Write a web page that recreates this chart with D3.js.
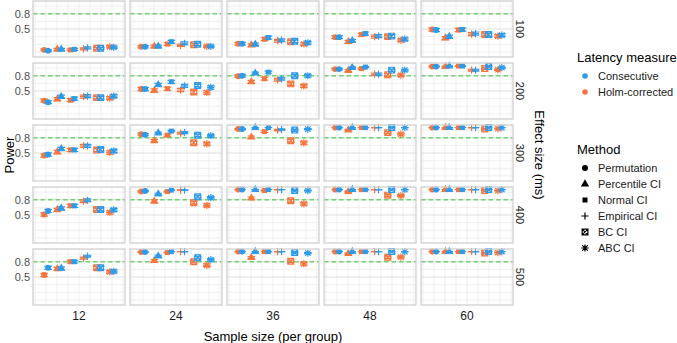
<!DOCTYPE html>
<html>
<head>
<meta charset="utf-8">
<script src="https://cdn.jsdelivr.net/npm/d3@7"></script>
<style>
  body { margin: 0; background: #fff; }
  svg text { font-family: "Liberation Sans", Arial, sans-serif; }
</style>
</head>
<body>
<div id="chart"></div>
<script>
const width = 677;
const height = 343;

// facets and categories
const effects = [100, 200, 300, 400, 500];
const sampleSizes = [12, 24, 36, 48, 60];
const methods = ["Permutation", "Percentile CI", "Normal CI", "Empirical CI", "BC CI", "ABC CI"];
const measures = ["Consecutive", "Holm-corrected"];
const measureColors = ["#2E9BEA", "#F4763E"];
const yTicks = [0.5, 0.8];
const yMinor = [0.05, 0.2, 0.35, 0.65, 0.95];
const target = 0.8;

// power per sample size (rows) and method (columns)
const consecutive100 = [
  [0.075, 0.10, 0.10, 0.13, 0.12, 0.14],
  [0.15, 0.16, 0.25, 0.22, 0.20, 0.16],
  [0.21, 0.20, 0.33, 0.28, 0.26, 0.23],
  [0.34, 0.27, 0.41, 0.36, 0.36, 0.30],
  [0.48, 0.35, 0.49, 0.41, 0.39, 0.38]
];
const holm100 = [
  [0.09, 0.10, 0.09, 0.11, 0.12, 0.15],
  [0.15, 0.16, 0.205, 0.18, 0.19, 0.16],
  [0.21, 0.185, 0.30, 0.27, 0.25, 0.205],
  [0.34, 0.25, 0.39, 0.35, 0.35, 0.28],
  [0.49, 0.32, 0.48, 0.40, 0.39, 0.36]
];
const consecutive200 = [
  [0.28, 0.39, 0.35, 0.40, 0.37, 0.40],
  [0.54, 0.62, 0.68, 0.60, 0.61, 0.57],
  [0.80, 0.85, 0.87, 0.74, 0.80, 0.80],
  [0.93, 0.96, 0.97, 0.83, 0.91, 0.91],
  [0.98, 0.99, 0.99, 0.91, 0.98, 0.96]
];
const holm200 = [
  [0.31, 0.34, 0.32, 0.39, 0.37, 0.36],
  [0.54, 0.51, 0.545, 0.52, 0.48, 0.47],
  [0.79, 0.68, 0.74, 0.72, 0.64, 0.60],
  [0.93, 0.90, 0.94, 0.83, 0.82, 0.81],
  [0.98, 0.98, 0.99, 0.91, 0.94, 0.92]
];
const consecutive300 = [
  [0.47, 0.58, 0.56, 0.64, 0.57, 0.54],
  [0.86, 0.89, 0.93, 0.90, 0.85, 0.84],
  [0.97, 1.00, 1.00, 0.96, 0.95, 0.97],
  [1.00, 1.00, 1.00, 1.00, 1.00, 1.00],
  [1.00, 1.00, 1.00, 1.00, 1.00, 1.00]
];
const holm300 = [
  [0.45, 0.52, 0.56, 0.64, 0.56, 0.51],
  [0.87, 0.74, 0.85, 0.89, 0.70, 0.68],
  [0.97, 0.81, 0.92, 0.95, 0.74, 0.70],
  [1.00, 0.95, 1.00, 1.00, 0.90, 0.87],
  [1.00, 1.00, 1.00, 1.00, 0.97, 0.98]
];
const consecutive400 = [
  [0.58, 0.63, 0.68, 0.79, 0.61, 0.60],
  [0.97, 0.91, 0.99, 0.99, 0.86, 0.84],
  [1.00, 1.00, 1.00, 1.00, 0.98, 0.98],
  [1.00, 1.00, 1.00, 1.00, 1.00, 1.00],
  [1.00, 1.00, 1.00, 1.00, 1.00, 1.00]
];
const holm400 = [
  [0.51, 0.60, 0.68, 0.77, 0.61, 0.55],
  [0.96, 0.77, 0.96, 0.99, 0.74, 0.69],
  [1.00, 0.83, 0.98, 1.00, 0.78, 0.72],
  [1.00, 0.96, 1.00, 1.00, 0.89, 0.88],
  [1.00, 1.00, 1.00, 1.00, 0.98, 0.98]
];
const consecutive500 = [
  [0.68, 0.67, 0.80, 0.91, 0.68, 0.61],
  [0.99, 0.91, 1.00, 1.00, 0.88, 0.84],
  [1.00, 1.00, 1.00, 1.00, 0.98, 0.97],
  [1.00, 1.00, 1.00, 1.00, 1.00, 1.00],
  [1.00, 1.00, 1.00, 1.00, 1.00, 1.00]
];
const holm500 = [
  [0.54, 0.66, 0.80, 0.87, 0.68, 0.60],
  [0.99, 0.82, 0.98, 1.00, 0.80, 0.73],
  [1.00, 0.88, 1.00, 1.00, 0.81, 0.76],
  [1.00, 0.96, 1.00, 1.00, 0.89, 0.89],
  [1.00, 1.00, 1.00, 1.00, 0.97, 0.98]
];

const consecutive = [consecutive100, consecutive200, consecutive300, consecutive400, consecutive500];
const holm = [holm100, holm200, holm300, holm400, holm500];
const nSim = 1000; // simulations per cell, used for the binomial error bars

const svg = d3.select("#chart")
    .append("svg")
    .attr("width", width)
    .attr("height", height);

const col = d3.scaleBand().domain(sampleSizes).range([33, 513]).paddingInner(0.052);
const row = d3.scaleBand().domain(effects).range([1, 305]).paddingInner(0.097);
const x = d3.scaleLinear().domain([0, 7]).range([0, col.bandwidth()]);
const y = d3.scaleLinear().domain([-0.05, 1.05]).range([row.bandwidth(), 0]);
const dodge = 0.15;
const xGrid = d3.range(9).map(k => 0.15 + k * 6.7 / 8);

function shapePath(method, s) {
    switch (method) {
        case "Permutation": return d3.symbol(d3.symbolCircle, 28)();
        case "Percentile CI": return d3.symbol(d3.symbolTriangle, 30)();
        case "Normal CI": return d3.symbol(d3.symbolSquare, 25)();
        case "Empirical CI": return `M${-s},0H${s}M0,${-s}V${s}`;
        case "BC CI": {
            const h = s * 0.8;
            return `M${-h},${-h}H${h}V${h}H${-h}ZM${-h},${-h}L${h},${h}M${h},${-h}L${-h},${h}`;
        }
        default: {
            const d = s * 0.75;
            return `M${-s},0H${s}M0,${-s}V${s}M${-d},${-d}L${d},${d}M${d},${-d}L${-d},${d}`;
        }
    }
}

function drawShape(g, method, cx, cy, color) {
    const filled = methods.indexOf(method) < 3;
    g.append("path")
        .attr("transform", `translate(${cx},${cy})`)
        .attr("d", shapePath(method, 3.6))
        .attr("fill", filled ? color : "none")
        .attr("stroke", filled ? "none" : color)
        .attr("stroke-width", 1.2);
}

effects.forEach((e, ri) => {
    sampleSizes.forEach((n, ci) => {
        const g = svg.append("g").attr("transform", `translate(${col(n)},${row(e)})`);
        g.append("rect")
            .attr("width", col.bandwidth())
            .attr("height", row.bandwidth())
            .attr("fill", "#fff");

        g.selectAll(".vgrid").data(xGrid).join("line")
            .attr("x1", d => x(d)).attr("x2", d => x(d))
            .attr("y1", 0).attr("y2", row.bandwidth())
            .attr("stroke", "#ebebeb").attr("stroke-width", 0.8);
        g.selectAll(".hminor").data(yMinor).join("line")
            .attr("x1", 0).attr("x2", col.bandwidth())
            .attr("y1", d => y(d)).attr("y2", d => y(d))
            .attr("stroke", "#ebebeb").attr("stroke-width", 0.8);
        g.selectAll(".hmajor").data(yTicks).join("line")
            .attr("x1", 0).attr("x2", col.bandwidth())
            .attr("y1", d => y(d)).attr("y2", d => y(d))
            .attr("stroke", "#dedede").attr("stroke-width", 1);

        g.append("line")
            .attr("x1", 0).attr("x2", col.bandwidth())
            .attr("y1", y(target)).attr("y2", y(target))
            .attr("stroke", "#72D072").attr("stroke-width", 1.5)
            .attr("stroke-dasharray", "4.5,3");

        // Holm first, consecutive on top
        [[holm, 1, -dodge], [consecutive, 0, dodge]].forEach(([set, mi, off]) => {
            const color = measureColors[mi];
            set[ri][ci].forEach((p, k) => {
                const cx = x(k + 1 + off);
                const half = 1.96 * Math.sqrt(p * (1 - p) / nSim);
                const y0 = y(Math.min(1, p + half)), y1 = y(Math.max(0, p - half));
                g.append("path")
                    .attr("d", `M${cx - 3.8},${y0}H${cx + 3.8}M${cx},${y0}V${y1}M${cx - 3.8},${y1}H${cx + 3.8}`)
                    .attr("stroke", color).attr("stroke-width", 1.2).attr("fill", "none");
                drawShape(g, methods[k], cx, y(p), color);
            });
        });

        g.append("rect")
            .attr("width", col.bandwidth())
            .attr("height", row.bandwidth())
            .attr("fill", "none")
            .attr("stroke", "#d0d0d0")
            .attr("stroke-width", 1.3);

        if (ci === 0) {
            g.selectAll(".ytick").data(yTicks).join("text")
                .attr("x", -3).attr("y", d => y(d))
                .attr("dy", "0.35em")
                .attr("text-anchor", "end")
                .attr("font-size", 11)
                .attr("fill", "#4d4d4d")
                .text(d => d.toFixed(1));
        }
    });

    svg.append("text")
        .attr("transform", `translate(520,${row(e) + row.bandwidth() / 2}) rotate(90)`)
        .attr("text-anchor", "middle")
        .attr("dy", "0.35em")
        .attr("font-size", 11)
        .attr("fill", "#1a1a1a")
        .text(e);
});

sampleSizes.forEach(n => {
    svg.append("text")
        .attr("x", col(n) + col.bandwidth() / 2)
        .attr("y", 316)
        .attr("dy", "0.35em")
        .attr("text-anchor", "middle")
        .attr("font-size", 12)
        .attr("fill", "#1a1a1a")
        .text(n);
});

svg.append("text")
    .attr("x", 273).attr("y", 336).attr("dy", "0.35em")
    .attr("text-anchor", "middle")
    .attr("font-size", 13)
    .text("Sample size (per group)");

svg.append("text")
    .attr("transform", "translate(9,155) rotate(-90)")
    .attr("text-anchor", "middle")
    .attr("dy", "0.35em")
    .attr("font-size", 13)
    .text("Power");

svg.append("text")
    .attr("transform", "translate(540,155) rotate(90)")
    .attr("text-anchor", "middle")
    .attr("dy", "0.35em")
    .attr("font-size", 13)
    .text("Effect size (ms)");

// legends
const lg = svg.append("g");
lg.append("text").attr("x", 577).attr("y", 57).attr("dy", "0.35em")
    .attr("font-size", 13).text("Latency measure");
measures.forEach((m, i) => {
    const cy = 76 + i * 16;
    lg.append("circle").attr("cx", 585).attr("cy", cy).attr("r", 2.8).attr("fill", measureColors[i]);
    lg.append("text").attr("x", 598).attr("y", cy).attr("dy", "0.35em")
        .attr("font-size", 11).attr("fill", "#1a1a1a").text(m);
});

lg.append("text").attr("x", 577).attr("y", 149).attr("dy", "0.35em")
    .attr("font-size", 13).text("Method");
methods.forEach((m, i) => {
    const cy = 168 + i * 16;
    drawShape(lg, m, 585, cy, "#000");
    lg.append("text").attr("x", 598).attr("y", cy).attr("dy", "0.35em")
        .attr("font-size", 11).attr("fill", "#1a1a1a").text(m);
});
</script>
</body>
</html>
